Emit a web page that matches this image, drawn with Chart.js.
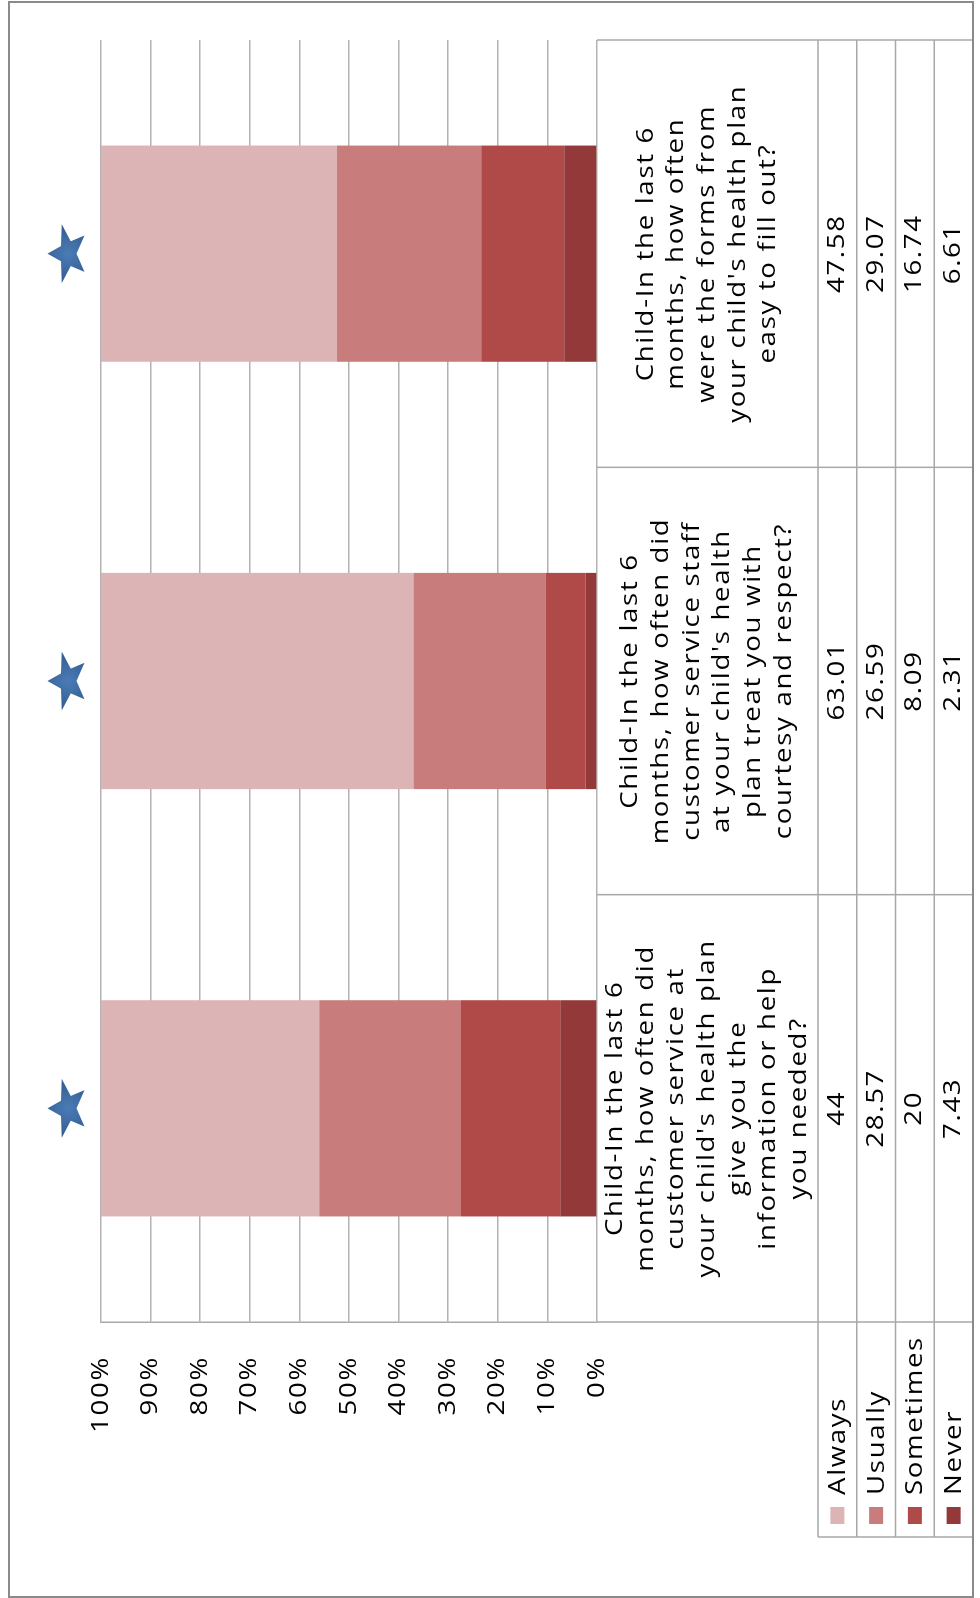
<!DOCTYPE html>
<html lang="en">
<head>
  <meta charset="UTF-8">
  <title>Child survey – customer service</title>
  <script src="https://cdn.jsdelivr.net/npm/chart.js"></script>
  <style>
    html, body {
      margin: 0;
      padding: 0;
      background: #fff;
      overflow: hidden;
    }
    /* the chart is laid out landscape and turned a quarter turn */
    #wrap {
      position: absolute;
      left: 0;
      top: 0;
      width: 1598px;
      height: 980px;
      transform-origin: 0 0;
      transform: translateY(1598px) rotate(-90deg);
    }
  </style>
</head>
<body>

  <div id="wrap"><canvas id="grafico" width="1598" height="980"></canvas></div>

  <script>
    const questions = [
      ["Child-In the last 6", "months, how often did", "customer service at", "your child's health plan", "give you the", "information or help", "you needed?"],
      ["Child-In the last 6", "months, how often did", "customer service staff", "at your child's health", "plan treat you with", "courtesy and respect?"],
      ["Child-In the last 6", "months, how often", "were the forms from", "your child's health plan", "easy to fill out?"]
    ];
    const seriesNames = ["Always", "Usually", "Sometimes", "Never"];
    const always    = [44, 63.01, 47.58];
    const usually   = [28.57, 26.59, 29.07];
    const sometimes = [20, 8.09, 16.74];
    const never     = [7.43, 2.31, 6.61];
    const starred   = [true, true, true];
    const colors    = ["#ddb4b5", "#c87c7c", "#b04a48", "#93393a"];

    const FONT = '"Open Sans", "DejaVu Sans", sans-serif';
    const FS = 23;
    const SX = 1.2;          // text is drawn a bit wide
    const SPACING = '1.4px';

    // wide text helper used for every label on the chart
    function wideText(ctx, text, x, y, align) {
      ctx.save();
      ctx.translate(x, y);
      ctx.scale(SX, 1);
      ctx.font = FS + 'px ' + FONT;
      ctx.letterSpacing = SPACING;
      ctx.textAlign = align;
      ctx.textBaseline = 'middle';
      ctx.fillStyle = '#000';
      ctx.fillText(text, 0, 0);
      ctx.restore();
    }

    function drawStar(ctx, cx, cy, rx, ry) {
      ctx.beginPath();
      for (let k = 0; k < 10; k++) {
        const r = k % 2 ? 0.42 : 1;
        const a = -Math.PI / 2 + k * Math.PI / 5;
        ctx.lineTo(cx + Math.cos(a) * r * rx, cy + Math.sin(a) * r * ry);
      }
      ctx.closePath();
      const g = ctx.createRadialGradient(cx, cy, 1, cx, cy, rx);
      g.addColorStop(0, '#4a7bb5');
      g.addColorStop(1, '#30598c');
      ctx.fillStyle = g;
      ctx.fill();
    }

    // stars, value axis labels and the data table under the plot
    const tablePlugin = {
      id: 'dataTable',
      afterDraw(chart) {
        const ctx = chart.ctx;
        const area = chart.chartArea;
        const x = chart.scales.x;
        const y = chart.scales.y;
        const n = questions.length;
        const catW = (area.right - area.left) / n;
        const headTop = area.bottom;
        const headBottom = headTop + 221;
        const tableBottom = 973;
        const rowH = (tableBottom - headBottom) / seriesNames.length;
        const keyLeft = 61;
        const rows = [always, usually, sometimes, never];

        ctx.save();

        // value axis labels
        y.ticks.forEach(t => {
          wideText(ctx, t.value + '%', area.left - 34, y.getPixelForValue(t.value), 'right');
        });

        // significance stars
        starred.forEach((s, i) => {
          if (s) drawStar(ctx, x.getPixelForValue(i), area.top - 33, 31, 20.5);
        });

        // grid of the table
        ctx.strokeStyle = '#a8a8a8';
        ctx.lineWidth = 1.5;
        ctx.beginPath();
        for (let r = 0; r <= seriesNames.length; r++) {
          const yy = headBottom + r * rowH;
          ctx.moveTo(keyLeft, yy);
          ctx.lineTo(area.right, yy);
        }
        for (let i = 0; i <= n; i++) {
          const xx = area.left + i * catW;
          ctx.moveTo(xx, headTop);
          ctx.lineTo(xx, tableBottom);
        }
        ctx.moveTo(keyLeft, headBottom);
        ctx.lineTo(keyLeft, tableBottom);
        ctx.stroke();

        // category headers
        const lh = 30.7;
        questions.forEach((lines, i) => {
          const cx = area.left + (i + 0.5) * catW;
          const cy = (headTop + headBottom) / 2;
          lines.forEach((t, k) => {
            wideText(ctx, t, cx, cy + (k - (lines.length - 1) / 2) * lh, 'center');
          });
        });

        // values
        rows.forEach((vals, r) => {
          const cy = headBottom + (r + 0.5) * rowH;
          vals.forEach((v, i) => {
            wideText(ctx, String(v), area.left + (i + 0.5) * catW, cy, 'center');
          });
        });

        // row headers with legend keys
        seriesNames.forEach((name, r) => {
          const cy = headBottom + (r + 0.5) * rowH;
          ctx.fillStyle = colors[r];
          ctx.fillRect(74, cy - 7, 17, 14);
          wideText(ctx, name, 103, cy + 1, 'left');
        });

        // chart frame
        ctx.strokeStyle = '#8a8a8a';
        ctx.lineWidth = 2;
        ctx.strokeRect(1, 9, 1595, 964);
        ctx.restore();
      }
    };

    const rowsForStack = [never, sometimes, usually, always];
    const namesForStack = ["Never", "Sometimes", "Usually", "Always"];
    const colorsForStack = [colors[3], colors[2], colors[1], colors[0]];

    function draw() {
      const ctx = document.getElementById('grafico').getContext('2d');
      new Chart(ctx, {
        type: 'bar',
        data: {
          labels: questions,
          datasets: rowsForStack.map((d, i) => ({
            label: namesForStack[i],
            data: d,
            backgroundColor: colorsForStack[i],
            borderWidth: 0,
            barPercentage: 0.506,
            categoryPercentage: 1
          }))
        },
        options: {
          responsive: false,
          animation: false,
          devicePixelRatio: 1,
          layout: { padding: { top: 101, right: 40, left: 0, bottom: 0 } },
          plugins: {
            legend: { display: false },
            tooltip: { enabled: false }
          },
          scales: {
            x: {
              stacked: true,
              ticks: { display: false },
              grid: { display: false, drawTicks: false },
              border: { display: false },
              afterFit(scale) { scale.height = 383; }
            },
            y: {
              stacked: true,
              min: 0,
              max: 100,
              ticks: { stepSize: 10, display: false },
              grid: { color: '#b2b2b2', lineWidth: 1.5, drawTicks: false },
              border: { display: true, color: '#a8a8a8', width: 1.5 },
              afterFit(scale) { scale.width = 276; }
            }
          }
        },
        plugins: [tablePlugin]
      });
    }

    document.fonts.load(FS + 'px "Open Sans"').then(draw, draw);
  </script>

</body>
</html>
